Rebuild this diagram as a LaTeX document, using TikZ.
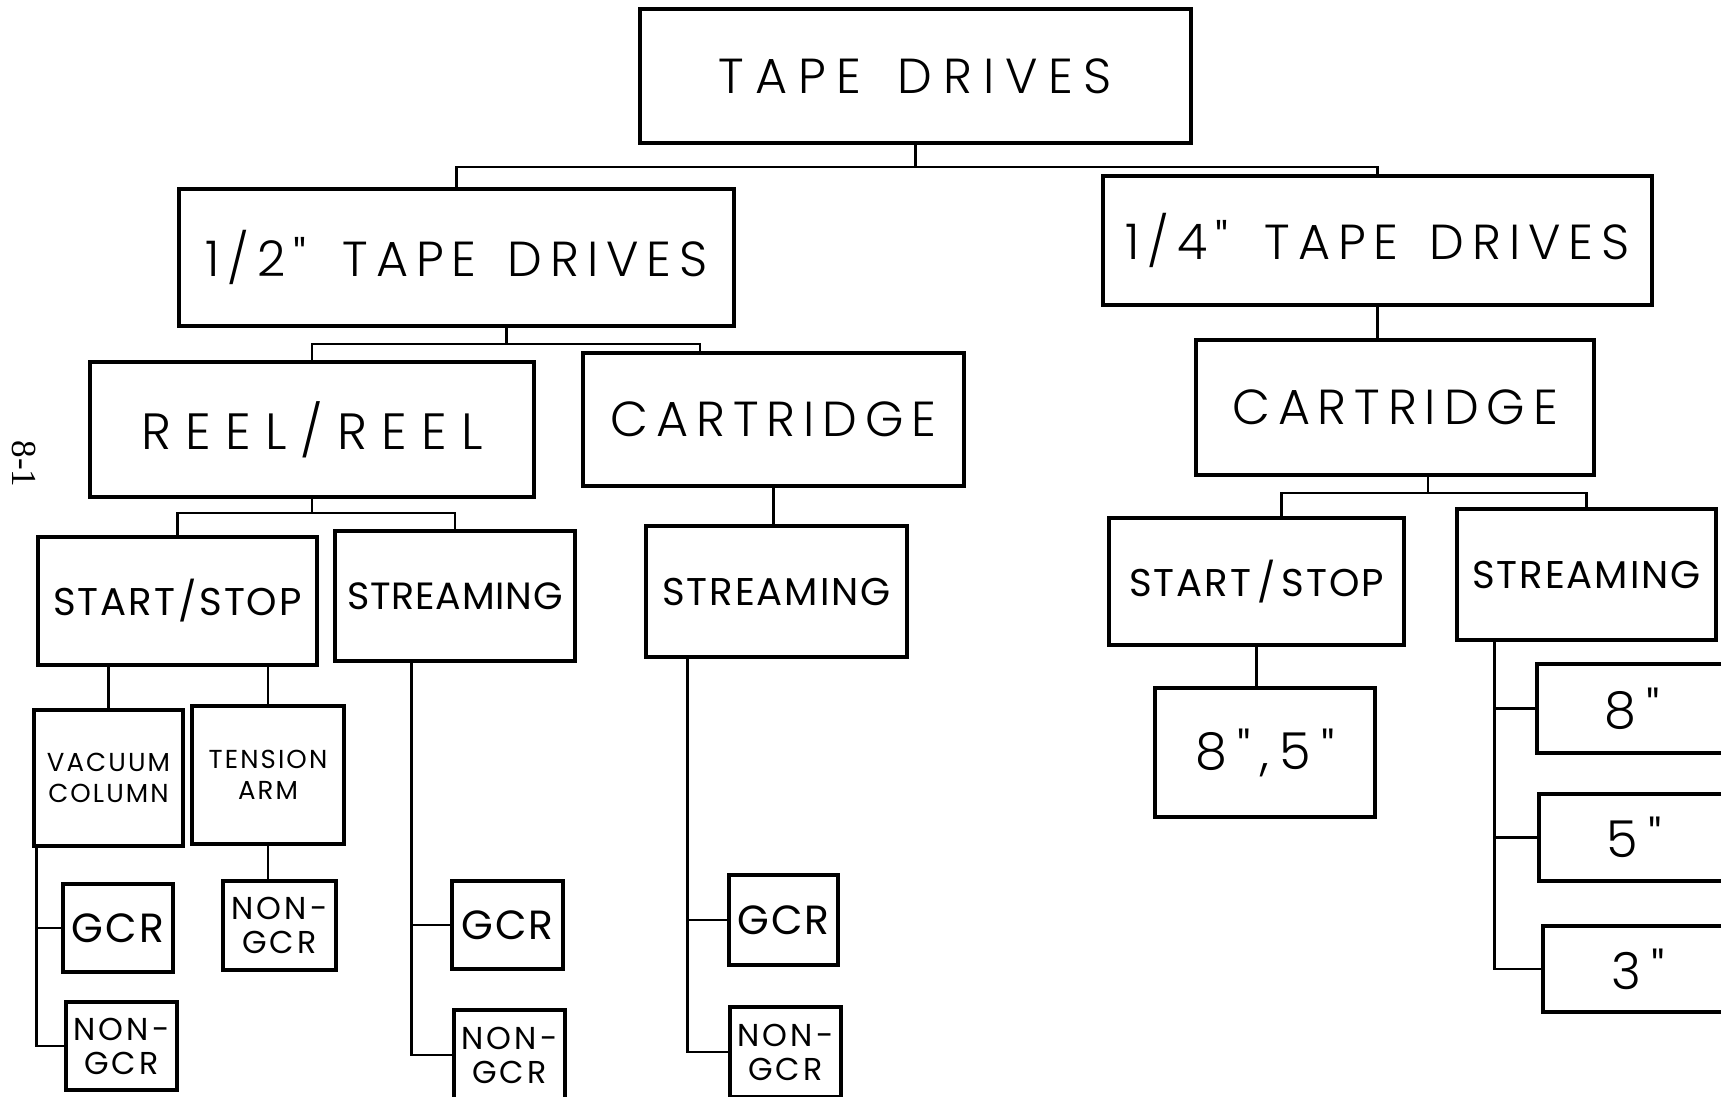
\documentclass[tikz,border=0pt]{standalone}
\usepackage{fontspec}
\usetikzlibrary{calc}
\newfontfamily\chartfont{Poppins}
\newfontfamily\thinfont{Poppins}[UprightFont={* Light}]
\newfontfamily\pagefont{Liberation Serif}

\tikzset{
  box/.style={draw, line width=0.9pt, inner sep=0pt, align=center},
  bigbox/.style={box, font=\thinfont\fontsize{14}{16}\selectfont\addfontfeature{LetterSpace=16}},
  midbox/.style={box, font=\chartfont\fontsize{11}{13}\selectfont\addfontfeature{LetterSpace=5}},
  smallbox/.style={box, font=\chartfont\fontsize{7.4}{8.8}\selectfont\addfontfeature{LetterSpace=8}},
  leafbox/.style={box, font=\chartfont\fontsize{11.6}{13}\selectfont\addfontfeature{LetterSpace=5}},
  twobox/.style={box, font=\chartfont\fontsize{9}{9.7}\selectfont\addfontfeature{LetterSpace=10}},
  sizebox/.style={box, font=\thinfont\fontsize{14.5}{16}\selectfont\addfontfeature{LetterSpace=20}},
  link/.style={line width=0.7pt},
}

\begin{document}
\begin{tikzpicture}
\useasboundingbox (0,0) rectangle (17.21,-10.96);

% --- page number ---
\node[font=\pagefont\fontsize{10}{12}\selectfont, rotate=-90] (page) at (0.245,-4.64) {8-1};

% --- top levels ---
\node[bigbox, line width=1.3pt, minimum width=5.51cm, minimum height=1.34cm,
  font=\thinfont\fontsize{14}{16}\selectfont\addfontfeature{LetterSpace=22}] (tape) at (9.155,-0.76) {TAPE\hspace{0.12cm} DRIVES};
\node[bigbox, minimum width=5.55cm, minimum height=1.37cm] (half) at (4.565,-2.575) {1/2"\hspace{0.15cm} TAPE\hspace{0.1cm} DRIVES};
\node[bigbox, minimum width=5.49cm, minimum height=1.29cm] (quarter) at (13.775,-2.405) {1/4"\hspace{0.15cm} TAPE\hspace{0.1cm} DRIVES};

\node[bigbox, minimum width=4.44cm, minimum height=1.35cm,
  font=\thinfont\fontsize{14.5}{16}\selectfont\addfontfeature{LetterSpace=28}] (reel) at (3.12,-4.295) {REEL/REEL};
\node[bigbox, minimum width=3.81cm, minimum height=1.33cm] (cartl) at (7.735,-4.195) {CARTRIDGE};
\node[bigbox, minimum width=3.98cm, minimum height=1.35cm] (cartr) at (13.95,-4.075) {CARTRIDGE};

% --- modes ---
\node[midbox, minimum width=2.79cm, minimum height=1.28cm] (ssl) at (1.775,-6.01) {START\hspace{0.03cm}/\hspace{0.03cm}STOP};
\node[midbox, minimum width=2.40cm, minimum height=1.30cm,
  font=\chartfont\fontsize{10.8}{13}\selectfont\addfontfeature{LetterSpace=2}] (strl) at (4.55,-5.96) {STREAMING};
\node[midbox, minimum width=2.61cm, minimum height=1.31cm] (strc) at (7.765,-5.915) {STREAMING};
\node[midbox, minimum width=2.95cm, minimum height=1.27cm] (ssr) at (12.565,-5.815) {START\hspace{0.06cm}/\hspace{0.06cm}STOP};
\node[midbox, minimum width=2.59cm, minimum height=1.31cm] (strr) at (15.865,-5.745) {STREAMING};

% --- reel/reel start/stop ---
\node[smallbox, minimum width=1.49cm, minimum height=1.36cm] (vac) at (1.085,-7.78) {VACUUM\\COLUMN};
\node[smallbox, minimum width=1.52cm, minimum height=1.38cm] (ten) at (2.68,-7.75) {TENSION\\ARM};

% --- recording ---
\node[leafbox, minimum width=1.10cm, minimum height=0.88cm] (gcr1) at (1.18,-9.28) {GCR};
\node[twobox, minimum width=1.11cm, minimum height=0.88cm] (ngcr1) at (1.215,-10.46) {NON-\\GCR};
\node[twobox, minimum width=1.13cm, minimum height=0.89cm] (ngcr2) at (2.795,-9.255) {NON-\\GCR};
\node[leafbox, minimum width=1.11cm, minimum height=0.88cm] (gcr3) at (5.075,-9.25) {GCR};
\node[twobox, minimum width=1.11cm, minimum height=0.90cm] (ngcr3) at (5.095,-10.55) {NON-\\GCR};
\node[leafbox, minimum width=1.09cm, minimum height=0.90cm] (gcr4) at (7.835,-9.2) {GCR};
\node[twobox, minimum width=1.11cm, minimum height=0.90cm] (ngcr4) at (7.855,-10.52) {NON-\\GCR};

% --- sizes ---
\node[sizebox, minimum width=2.20cm, minimum height=1.29cm] (s85) at (12.65,-7.525) {8",5"};
\node[sizebox, minimum width=1.90cm, minimum height=0.89cm] (s8) at (16.32,-7.085) {8"};
\node[sizebox, minimum width=1.90cm, minimum height=0.87cm] (s5) at (16.34,-8.375) {5"};
\node[sizebox, minimum width=1.90cm, minimum height=0.86cm] (s3) at (16.38,-9.69) {3"};

% --- connectors ---
\coordinate (bar1) at (0,-1.67);
\draw[link] (half.north) -- (half.north |- bar1) -| (quarter.north);
\draw[link] (tape.south) -- (tape.south |- bar1);

\coordinate (bar2) at (0,-3.44);
\coordinate (h2) at ([xshift=0.5cm]half.south);
\coordinate (c2) at ([xshift=-0.735cm]cartl.north);
\draw[link] (reel.north) -- (reel.north |- bar2) -| (c2);
\draw[link] (h2) -- (h2 |- bar2);

\draw[link] (quarter.south) -- (quarter.south |- cartr.north);

\coordinate (bar3) at (0,-5.13);
\draw[link] (ssl.north) -- (ssl.north |- bar3) -| (strl.north);
\draw[link] (reel.south) -- (reel.south |- bar3);

\draw[link] (cartl.south) -- (cartl.south |- strc.north);

\coordinate (bar4) at (0,-4.93);
\coordinate (c4) at ([xshift=0.33cm]cartr.south);
\coordinate (s4) at ([xshift=0.25cm]ssr.north);
\draw[link] (s4) -- (s4 |- bar4) -| (strr.north);
\draw[link] (c4) -- (c4 |- bar4);

\draw[link] (vac.north) -- (vac.north |- ssl.south);
\draw[link] (ten.north) -- (ten.north |- ssl.south);
\draw[link] (ten.south) -- (ten.south |- ngcr2.north);
\draw[link] (ssr.south) -- (ssr.south |- s85.north);

% side rails
\coordinate (rv) at ([xshift=0.04cm]vac.south west);
\draw[link] (rv) |- (gcr1.west);
\draw[link] (rv) |- (ngcr1.west);

\coordinate (rl) at ([xshift=0.78cm]strl.south west);
\draw[link] (rl) |- (gcr3.west);
\draw[link] (rl) |- (ngcr3.west);

\coordinate (rc) at ([xshift=0.43cm]strc.south west);
\draw[link] (rc) |- (gcr4.west);
\draw[link] (rc) |- (ngcr4.west);

\coordinate (rr) at ([xshift=0.39cm]strr.south west);
\foreach \n in {s8,s5,s3} \draw[link] (rr) |- (\n.west);
\end{tikzpicture}
\end{document}
